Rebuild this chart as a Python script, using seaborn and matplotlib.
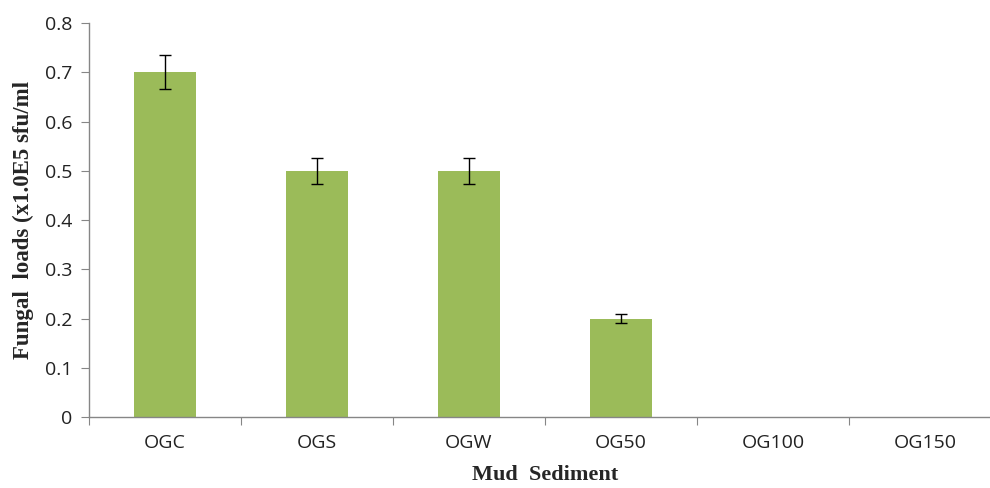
import matplotlib
matplotlib.use("Agg")
import matplotlib.pyplot as plt
import seaborn as sns

samples = ["OGC", "OGS", "OGW", "OG50", "OG100", "OG150"]
loads = [0.70, 0.50, 0.50, 0.20, 0.0, 0.0]
errors = [0.035, 0.026, 0.026, 0.010, 0.0, 0.0]

sns.set_style("white")
plt.rcParams["font.family"] = ["Open Sans", "DejaVu Sans"]

fig = plt.figure(figsize=(9.9, 4.88), dpi=100)
ax = fig.add_axes([89 / 990, 1 - 417 / 488, (1001 - 89) / 990, (417 - 23) / 488])

sns.barplot(x=samples, y=loads, color="#9BBB59", saturation=1, width=0.41,
            linewidth=0, ax=ax)
ax.errorbar(x=range(len(samples))[:4], y=loads[:4], yerr=errors[:4], fmt="none",
            ecolor="black", elinewidth=1, capsize=4, capthick=1)

ax.set_xlim(-0.5, len(samples) - 0.5)
ax.set_ylim(0, 0.8)
ax.set_yticks([0, 0.1, 0.2, 0.3, 0.4, 0.5, 0.6, 0.7, 0.8])
ax.set_yticklabels(["0", "0.1", "0.2", "0.3", "0.4", "0.5", "0.6", "0.7", "0.8"])
ax.set_xticks([i + 0.5 for i in range(-1, len(samples) - 1)], minor=False)
ax.set_xticklabels([])
ax.set_xticks(range(len(samples)), minor=True)
ax.set_xticklabels(samples, minor=True)

for s in ["top", "right"]:
    ax.spines[s].set_visible(False)
for s in ["left", "bottom"]:
    ax.spines[s].set_color("#868686")
    ax.spines[s].set_linewidth(1)

ax.tick_params(axis="y", which="major", direction="out", length=6, color="#868686",
               labelsize=14, labelcolor="#222222", left=True, pad=6)
ax.tick_params(axis="x", which="major", direction="out", length=6, color="#868686",
               bottom=True)
ax.tick_params(axis="x", which="minor", length=0, labelsize=14, labelcolor="#222222", pad=12)

ax.set_ylabel("Fungal  loads (x1.0E5 sfu/ml", family="Liberation Serif",
              fontweight="bold", fontsize=16.5, labelpad=8)
fig.text(545 / 990, 1 - 475 / 488, "Mud  Sediment", family="Liberation Serif",
         fontweight="bold", fontsize=16, ha="center", va="center")

fig.savefig("out.png", dpi=100)
